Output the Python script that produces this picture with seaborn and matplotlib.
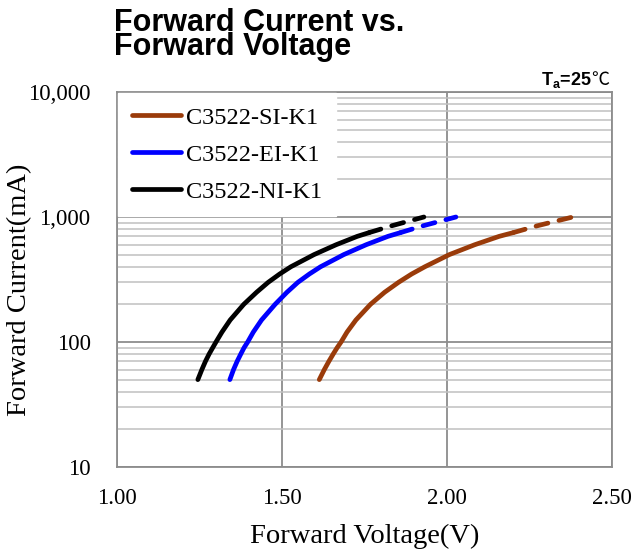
import matplotlib
matplotlib.use("Agg")
import matplotlib.pyplot as plt
import matplotlib.ticker as mticker
import seaborn as sns
import pandas as pd
import numpy as np

# ---- data ----
current_ma = [50, 60, 70, 80, 90, 100, 120, 150, 200, 250, 300, 350, 400, 500,
              600, 700, 750, 850, 1000]
v_si = [1.613, 1.628, 1.642, 1.655, 1.667, 1.679, 1.697, 1.724, 1.768, 1.811,
        1.853, 1.893, 1.933, 2.007, 2.084, 2.158, 2.201, 2.273, 2.381]
v_ei = [1.342, 1.353, 1.364, 1.375, 1.385, 1.396, 1.413, 1.438, 1.479, 1.515,
        1.548, 1.583, 1.617, 1.687, 1.755, 1.821, 1.859, 1.927, 2.027]
v_ni = [1.245, 1.257, 1.268, 1.279, 1.290, 1.300, 1.318, 1.343, 1.384, 1.423,
        1.458, 1.493, 1.527, 1.597, 1.664, 1.728, 1.764, 1.832, 1.930]
series_names = ["C3522-SI-K1", "C3522-EI-K1", "C3522-NI-K1"]
series_colors = ["#9a3b0a", "#0000ff", "#000000"]
solid_until = 750  # beyond this current the curve is dashed

x_ticks = [1.00, 1.50, 2.00, 2.50]
y_ticks = [10, 100, 1000, 10000]

sns.set_theme(style="white")
plt.rcParams["font.family"] = ["Liberation Serif", "DejaVu Serif"]
plt.rcParams["text.color"] = "black"
plt.rcParams["axes.labelcolor"] = "black"
plt.rcParams["mathtext.fontset"] = "custom"
plt.rcParams["mathtext.bf"] = "Liberation Sans:bold"
plt.rcParams["mathtext.rm"] = "Liberation Sans"

fig = plt.figure(figsize=(6.35, 5.51), dpi=100)
ax = fig.add_axes([117 / 635, 1 - 467 / 551, (612 - 117) / 635, (467 - 92) / 551])

rows = []
for name, vs in zip(series_names, [v_si, v_ei, v_ni]):
    for v, i in zip(vs, current_ma):
        rows.append({"series": name, "V": v, "I": i})
df = pd.DataFrame(rows)

for name, color in zip(series_names, series_colors):
    d = df[df.series == name]
    solid = d[d.I <= solid_until]
    dashed = d[d.I >= solid_until]
    sns.lineplot(data=solid, x="V", y="I", ax=ax, color=color, lw=3.4,
                 sort=False, estimator=None, label=name,
                 solid_capstyle="round", solid_joinstyle="round")
    sns.lineplot(data=dashed, x="V", y="I", ax=ax, color=color, lw=3.4,
                 sort=False, estimator=None, label="_nolegend_",
                 linestyle=(0, (2.6, 2.4)), dash_capstyle="round",
                 dash_joinstyle="round")

ax.set_yscale("log")
ax.set_xlim(1.0, 2.5)
ax.set_ylim(10, 10000)
ax.set_xticks(x_ticks)
ax.xaxis.set_major_formatter(mticker.FuncFormatter(lambda v, p: f"{v:.2f}"))
ax.set_yticks(y_ticks)
ax.yaxis.set_major_formatter(mticker.FuncFormatter(lambda v, p: f"{int(round(v)):,}"))
ax.yaxis.set_minor_locator(mticker.LogLocator(base=10, subs=np.arange(2, 10)))
ax.yaxis.set_minor_formatter(mticker.NullFormatter())

ax.grid(True, which="major", axis="both", color="#8c8c8c", lw=1.3)
ax.grid(True, which="minor", axis="y", color="#c0c0c0", lw=1.1)
ax.set_axisbelow(True)
for s in ax.spines.values():
    s.set_color("#8c8c8c")
    s.set_linewidth(1.3)
ax.tick_params(axis="both", which="both", length=0, labelsize=16.5,
               colors="black")
ax.tick_params(axis="x", pad=15)
ax.tick_params(axis="y", pad=19)

ax.set_xlabel("Forward Voltage(V)", fontsize=20.5, color="black")
ax.set_ylabel("Forward Current(mA)", fontsize=20.5, color="black")
ax.xaxis.set_label_coords(0.5, -(536 - 467) / 375, transform=ax.transAxes)
ax.xaxis.label.set_va("center")
ax.yaxis.set_label_coords(-(117 - 20) / 495, (467 - 290) / 375, transform=ax.transAxes)
ax.yaxis.label.set_va("center")

leg = ax.legend(loc="upper left", frameon=True, fontsize=17.5, handlelength=2.05,
                handletextpad=0.2, borderaxespad=0.05, labelspacing=0.62,
                borderpad=0.55, fancybox=False)
leg.get_frame().set_edgecolor("white")
leg.get_frame().set_facecolor("white")
leg.get_frame().set_alpha(1.0)
for t in leg.get_texts():
    t.set_color("black")

title_font = ["Liberation Sans", "DejaVu Sans"]
fig.text(114 / 635, 1 - 8 / 551, "Forward Current vs.\nForward Voltage",
         fontsize=22, fontweight="bold", family=title_font, ha="left",
         va="top", linespacing=0.74, color="black")

deg = fig.text(609 / 635, 1 - 85 / 551, "℃", fontsize=13,
               family=["Noto Sans CJK JP", "DejaVu Sans"], ha="right",
               va="baseline", color="black")
fig.canvas.draw()
bb = deg.get_window_extent()
fig.text((bb.x0 + 1) / 635, 1 - 85 / 551, r"$\mathbf{T_a}$=25", fontsize=13,
         fontweight="bold", family=["Liberation Sans", "DejaVu Sans"],
         ha="right", va="baseline", color="black")

fig.savefig("out.png", dpi=100)
